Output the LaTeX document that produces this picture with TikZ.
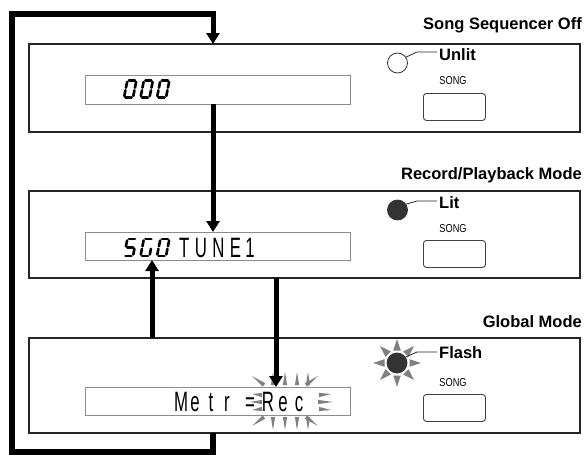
\documentclass[tikz,border=0pt]{standalone}
\usepackage{fontspec}
\setmainfont{Liberation Sans}
\usetikzlibrary{arrows.meta,calc}
\newcommand\sgA{\draw[seg] (1.5,17) -- (7.5,17);}
\newcommand\sgB{\draw[seg] (9,15.5) -- (9,9.8);}
\newcommand\sgC{\draw[seg] (9,7.2) -- (9,1.5);}
\newcommand\sgD{\draw[seg] (1.5,0) -- (7.5,0);}
\newcommand\sgE{\draw[seg] (0,1.5) -- (0,7.2);}
\newcommand\sgF{\draw[seg] (0,9.8) -- (0,15.5);}
\newcommand\sgG{\draw[seg] (1.5,8.5) -- (7.5,8.5);}
\newcommand\segdigit[2]{\begin{scope}[shift={(#1)},xslant=0.2]
  \foreach \s in {#2}{\csname sg\s\endcsname}\end{scope}}
\newcommand\burstray[2]{\fill[ray] ($(#1)!2.1pt!90:(#2)$) -- (#2) -- ($(#1)!2.1pt!-90:(#2)$) -- cycle;}
\begin{document}
\begin{tikzpicture}[x=1pt,y=1pt,
  panel/.style={draw=black!85,line width=1.2pt,fill=white,rectangle,inner sep=0,outer sep=0},
  lcd/.style={draw=black!45,line width=1pt,fill=white,rectangle,inner sep=0,outer sep=0,minimum width=265pt},
  conn/.style={line width=5.5pt,line join=miter},
  arr/.style={line width=5pt,-{Triangle[width=13pt,length=11pt]}},
  head/.style={font=\fontsize{16.5}{18}\selectfont\bfseries,anchor=base east,inner sep=0},
  lab/.style={font=\fontsize{16.5}{18}\selectfont\bfseries,anchor=base west,inner sep=0},
  songlab/.style={font=\fontsize{11.5}{11.5}\selectfont,anchor=base,inner sep=0},
  btn/.style={draw=black!75,line width=0.9pt,rounded corners=3pt,minimum width=62pt,minimum height=27pt,inner sep=0},
  lamp/.style={circle,minimum size=20pt,inner sep=0,outer sep=0,draw=black!80,line width=0.8pt},
  lead/.style={line width=0.8pt,draw=black!85},
  ray/.style={fill=black!50,draw=none},
  seg/.style={line width=2.6pt,line cap=round},
  lcdtxt/.style={font=\fontsize{28}{28}\selectfont,anchor=base,inner sep=0}
]
\useasboundingbox (0,0) rectangle (584,-455);

% panels
\node[panel,anchor=north west,minimum width=551pt,minimum height=88pt] (p1) at (29,-44) {};
\node[panel,anchor=north west,minimum width=551pt,minimum height=87pt] (p2) at (29,-191) {};
\node[panel,anchor=north west,minimum width=551pt,minimum height=95pt] (p3) at (29,-338) {};

% headings
\node[head] (h1) at (582,-30) {Song Sequencer Off};
\node[head] (h2) at (582,-179) {Record/Playback Mode};
\node[head] (h3) at (582,-327) {Global Mode};

% displays
\node[lcd,anchor=north west,minimum height=29pt] (d1) at (85,-75) {};
\node[lcd,anchor=north west,minimum height=28pt] (d2) at (85,-232) {};
\node[lcd,anchor=north west,minimum height=28pt] (d3) at (85,-387) {};

% display 1: 000
\segdigit{124,-97.5}{A,B,C,D,E,F}
\segdigit{140.5,-97.5}{A,B,C,D,E,F}
\segdigit{157,-97.5}{A,B,C,D,E,F}

% display 2: 5G0 TUNE1
\segdigit{124,-256}{A,F,G,C,D}
\segdigit{140.5,-256}{A,F,E,D,C}
\segdigit{157,-256}{A,B,C,D,E,F}
\node[lcdtxt,anchor=base west] (tune) at (179,-257) {\scalebox{0.6}[1]{T\kern9pt U\kern9pt N\kern9pt E\kern7pt 1}};

% display 3 burst
\burstray{273,-385}{273,-372}
\burstray{285,-385}{285,-372}
\burstray{297,-385}{297,-372}
\burstray{308,-385}{308,-372}
\burstray{273,-417}{273,-430}
\burstray{285,-417}{285,-430}
\burstray{297,-417}{297,-430}
\burstray{308,-417}{308,-430}
\burstray{264,-385}{252,-376}
\burstray{306,-385}{318,-376}
\burstray{264,-417}{252,-426}
\burstray{306,-417}{318,-426}
\burstray{319,-395}{331,-394}
\burstray{318,-402}{333,-402}
\burstray{319,-409}{331,-410}
\burstray{262,-395}{252,-394}
\burstray{262,-402}{250,-402}
\burstray{262,-409}{252,-410}

% display 3 text
\foreach \ch/\xx [count=\i] in {M/181,e/195,t/211,r/227,=/250,R/268,e/283,c/299}
  \node[lcdtxt] (m\i) at (\xx,-411) {\scalebox{0.6}[1]{\ch}};

% lamps, rays, leaders
\begin{scope}[shift={(397,-363)}]
  \foreach \a in {0,45,...,315}
    \fill[ray,rotate=\a] (12.5,3.8) -- (24,0) -- (12.5,-3.8) -- cycle;
\end{scope}
\node[lamp] (l1) at (397.5,-63) {};
\node[lamp,fill=black!80] (l2) at (397.5,-210) {};
\node[lamp,fill=black!80] (l3) at (397,-363) {};

\node[lab] (u1) at (439,-60) {Unlit};
\node[lab] (u2) at (439,-208) {Lit};
\node[lab] (u3) at (439,-358) {Flash};
\draw[lead] (l1.35) -- (417,-52) -- (437,-52);
\draw[lead] (l2.35) -- (417,-201) -- (437,-201);
\draw[lead] (l3.35) -- (417,-352) -- (437,-352);

% SONG buttons
\node[songlab] (s1) at (453,-84) {\scalebox{0.8}[1]{SONG}};
\node[songlab] (s2) at (453,-232) {\scalebox{0.8}[1]{SONG}};
\node[songlab] (s3) at (453,-386) {\scalebox{0.8}[1]{SONG}};
\node[btn,anchor=north west] (b1) at (423,-93) {};
\node[btn,anchor=north west] (b2) at (423,-240) {};
\node[btn,anchor=north west] (b3) at (423,-394) {};

% connectors
\coordinate (c1) at (213,-452);
\coordinate (tl) at (12,-14);
\coordinate (bl) at (12,-452);
\coordinate (ux) at (152,0);
\coordinate (dx) at (276,0);
\draw[conn] (p3.south -| c1) -- (c1) -- (bl) -- (tl) -- (tl -| c1) -- ++(0,-3);
\draw[arr] ($(tl -| c1)+(0,2.75)$) -- (p1.north -| c1);
\draw[arr] (d1.south -| c1) -- (d2.north -| c1);
\draw[arr] (p3.north -| ux) -- (d2.south -| ux);
\draw[arr] (p2.south -| dx) -- (d3.north -| dx);
\end{tikzpicture}
\end{document}
